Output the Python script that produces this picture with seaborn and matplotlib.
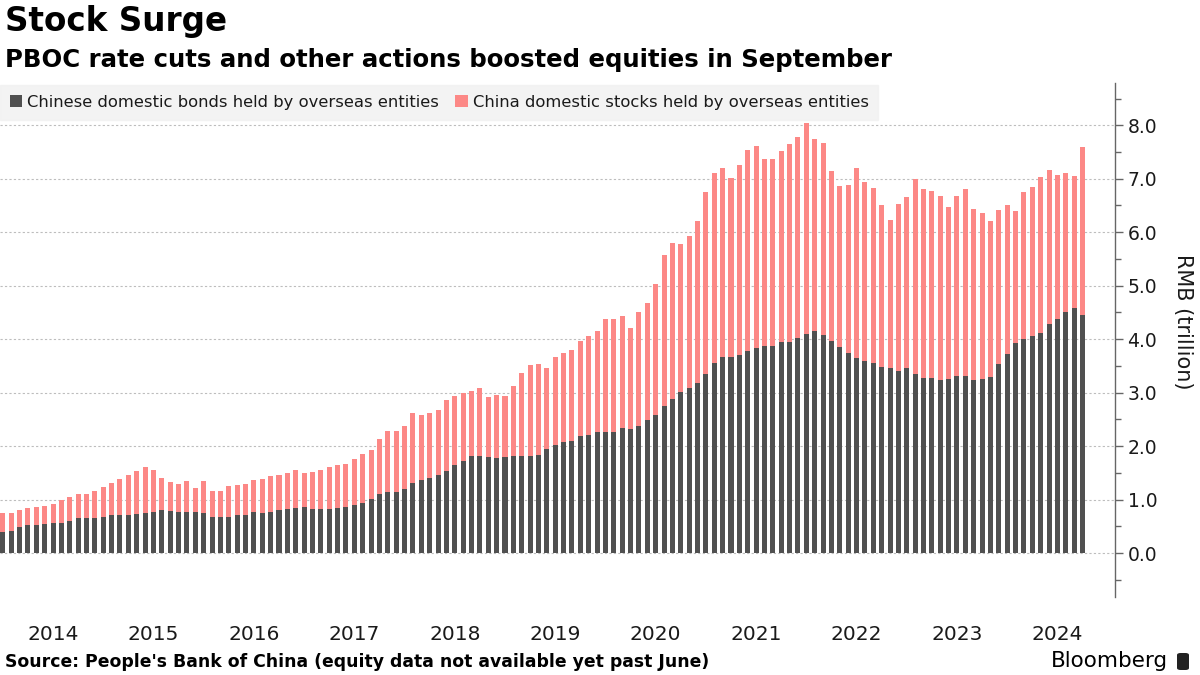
import numpy as np
import pandas as pd
import matplotlib
matplotlib.use("Agg")
import matplotlib.pyplot as plt
import seaborn as sns
from matplotlib.patches import Patch, FancyBboxPatch
from matplotlib.ticker import MultipleLocator, FormatStrFormatter

# ---- data (RMB trillion), monthly Dec 2013 .. Sep 2024 ----
months = pd.date_range("2013-12-31", "2024-09-30", freq="ME").strftime("%Y-%m").tolist()

bonds = [0.40, 0.42, 0.48, 0.52, 0.53, 0.55, 0.57, 0.57, 0.60, 0.65, 0.65, 0.66,
         0.68, 0.71, 0.71, 0.72, 0.73, 0.75, 0.77, 0.81, 0.79, 0.77, 0.77, 0.77,
         0.75, 0.68, 0.68, 0.68, 0.72, 0.72, 0.77, 0.75, 0.77, 0.81, 0.83, 0.85,
         0.87, 0.83, 0.83, 0.83, 0.85, 0.87, 0.90, 0.94, 1.01, 1.10, 1.15, 1.15,
         1.19, 1.32, 1.36, 1.40, 1.47, 1.53, 1.64, 1.72, 1.81, 1.81, 1.79, 1.77,
         1.79, 1.81, 1.81, 1.81, 1.83, 1.94, 2.02, 2.08, 2.10, 2.19, 2.21, 2.27,
         2.27, 2.27, 2.34, 2.32, 2.38, 2.49, 2.58, 2.75, 2.88, 3.01, 3.09, 3.18,
         3.35, 3.56, 3.67, 3.67, 3.70, 3.78, 3.84, 3.87, 3.87, 3.95, 3.95, 4.02,
         4.10, 4.15, 4.08, 3.97, 3.85, 3.74, 3.65, 3.60, 3.56, 3.48, 3.46, 3.41,
         3.46, 3.35, 3.28, 3.28, 3.24, 3.26, 3.32, 3.31, 3.24, 3.26, 3.29, 3.54,
         3.72, 3.93, 4.00, 4.06, 4.12, 4.28, 4.38, 4.51, 4.58, 4.45]

stocks = [0.35, 0.33, 0.33, 0.32, 0.33, 0.33, 0.35, 0.43, 0.45, 0.46, 0.46, 0.51,
          0.56, 0.60, 0.68, 0.74, 0.80, 0.86, 0.78, 0.59, 0.54, 0.52, 0.58, 0.45,
          0.60, 0.49, 0.49, 0.58, 0.56, 0.58, 0.60, 0.64, 0.67, 0.65, 0.67, 0.71,
          0.63, 0.69, 0.73, 0.78, 0.80, 0.80, 0.86, 0.92, 0.92, 1.03, 1.13, 1.13,
          1.18, 1.30, 1.22, 1.22, 1.20, 1.33, 1.29, 1.28, 1.22, 1.27, 1.13, 1.18,
          1.14, 1.31, 1.55, 1.70, 1.70, 1.52, 1.65, 1.66, 1.70, 1.78, 1.85, 1.88,
          2.11, 2.11, 2.09, 1.89, 2.13, 2.19, 2.45, 2.82, 2.92, 2.77, 2.84, 3.03,
          3.40, 3.54, 3.53, 3.34, 3.55, 3.75, 3.77, 3.50, 3.50, 3.57, 3.70, 3.76,
          3.94, 3.59, 3.58, 3.17, 3.01, 3.14, 3.56, 3.33, 3.26, 3.03, 2.77, 3.11,
          3.20, 3.64, 3.53, 3.49, 3.43, 3.21, 3.35, 3.49, 3.19, 3.10, 2.92, 2.87,
          2.79, 2.47, 2.75, 2.78, 2.91, 2.88, 2.69, 2.60, 2.47, 3.15]

years = [str(y) for y in range(2014, 2025)]

df = pd.DataFrame({"month": months, "bonds": bonds, "stocks": stocks})
df["total"] = df["bonds"] + df["stocks"]

BOND_C = "#505050"
STOCK_C = "#fc8886"

sns.set_style("white")
plt.rcParams["font.family"] = ["DejaVu Sans"]

fig = plt.figure(figsize=(12, 6.75), dpi=100)
ax = fig.add_axes([0.0, 1 - 597 / 675, 1115 / 1200, (597 - 83) / 675])

bar_kw = dict(width=0.6, saturation=1, ax=ax, edgecolor="none", linewidth=0)
sns.barplot(data=df, x="month", y="total", color=STOCK_C, zorder=3, **bar_kw)
sns.barplot(data=df, x="month", y="bonds", color=BOND_C, zorder=4, **bar_kw)

pitch = 8.37
ax.set_xlim(-2.8 / pitch, -2.8 / pitch + 1115 / pitch)
ax.set_ylim(-0.82, 8.79)

# x: year labels at mid-year
ax.set_xticks([6 + 12 * k for k in range(len(years))])
ax.set_xticklabels(years, fontsize=14.5, color="#1a1a1a")
ax.tick_params(axis="x", length=0, pad=20)
ax.set_xlabel("")

# y on the right
ax.yaxis.tick_right()
ax.yaxis.set_label_position("right")
ax.yaxis.set_major_locator(MultipleLocator(1.0))
ax.yaxis.set_minor_locator(MultipleLocator(0.5))
ax.yaxis.set_major_formatter(FormatStrFormatter("%.1f"))
ax.tick_params(axis="y", which="major", length=6, width=1, color="#666666",
               labelsize=13.5, labelcolor="#1a1a1a", pad=3, direction="out")
ax.tick_params(axis="y", which="minor", length=4, width=1, color="#666666",
               direction="out")
ax.set_ylabel("RMB (trillion)", rotation=270, fontsize=15, color="#1a1a1a",
              va="center", ha="center")
ax.yaxis.set_label_coords(1183 / 1115, (597 - 322) / 514)

for s in ["top", "left", "bottom"]:
    ax.spines[s].set_visible(False)
ax.spines["right"].set_color("#666666")
ax.spines["right"].set_linewidth(1)

ax.yaxis.grid(True, which="major", linestyle=(0, (2, 2)), color="#bdbdbd",
              linewidth=0.8, zorder=0)
ax.xaxis.grid(False)
ax.set_axisbelow(True)

# legend
handles = [Patch(facecolor=BOND_C, edgecolor="none",
                 label="Chinese domestic bonds held by overseas entities"),
           Patch(facecolor=STOCK_C, edgecolor="none",
                 label="China domestic stocks held by overseas entities")]
leg = fig.legend(handles=handles, loc="upper left",
                 bbox_to_anchor=(0.0, 1 - 85 / 675), ncol=2, frameon=True,
                 fancybox=False, facecolor="#f1f1f1", edgecolor="#f1f1f1",
                 fontsize=11.8, handlelength=0.75, handleheight=0.75,
                 handletextpad=0.3, columnspacing=1.0, borderpad=0.6,
                 borderaxespad=0.0)
for t in leg.get_texts():
    t.set_color("#1a1a1a")

# titles
fig.text(0.004, 1 - 5 / 675, "Stock Surge", fontsize=23.5, fontweight="bold",
         va="top", ha="left", color="black")
fig.text(0.004, 1 - 60 / 675,
         "PBOC rate cuts and other actions boosted equities in September",
         fontsize=17.6, fontweight="bold", va="center", ha="left", color="black")

# footer
fig.text(0.004, 1 - 662 / 675,
         "Source: People's Bank of China (equity data not available yet past June)",
         fontsize=12.4, fontweight="bold", va="center", ha="left", color="black")
fig.text(1168 / 1200, 1 - 661 / 675, "Bloomberg", fontsize=15.5, va="center",
         ha="right", color="black")
icon = FancyBboxPatch((1177 / 1200, 1 - 670 / 675), 12 / 1200, 17 / 675,
                      boxstyle="round,pad=0.0,rounding_size=0.003",
                      transform=fig.transFigure, facecolor="#222222",
                      edgecolor="none")
fig.patches.append(icon)

fig.savefig("out.png", dpi=100)
